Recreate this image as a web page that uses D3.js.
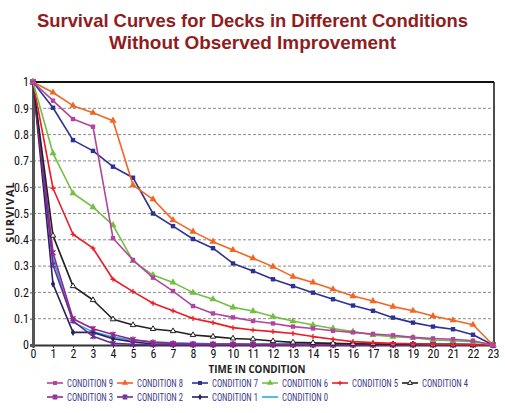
<!DOCTYPE html>
<html><head><meta charset="utf-8">
<script src="https://cdn.jsdelivr.net/npm/d3@7"></script>
<style>body{margin:0;background:#fff}svg{display:block}</style>
</head><body>
<svg id="c" width="505" height="413"></svg>
<script>
const times = d3.range(0, 24);
const xTicks = d3.range(0, 24);
const yTicks = [0,0.1,0.2,0.3,0.4,0.5,0.6,0.7,0.8,0.9,1];
const yTickLabels = ["0","0.1","0.2","0.3","0.4","0.5","0.6","0.7","0.8","0.9","1"];
const seriesNames = ["CONDITION 9","CONDITION 8","CONDITION 7","CONDITION 6","CONDITION 5","CONDITION 4","CONDITION 3","CONDITION 2","CONDITION 1","CONDITION 0"];
const cond9 = [1,0.929,0.859,0.83,0.406,0.323,0.256,0.205,0.148,0.12,0.105,0.091,0.082,0.07,0.063,0.054,0.048,0.042,0.037,0.029,0.025,0.022,0.016,0];
const cond8 = [1,0.96,0.91,0.883,0.853,0.608,0.554,0.475,0.431,0.393,0.361,0.33,0.298,0.26,0.238,0.212,0.186,0.167,0.146,0.13,0.11,0.094,0.077,0];
const cond7 = [1,0.902,0.779,0.738,0.678,0.636,0.5,0.452,0.403,0.368,0.31,0.281,0.25,0.224,0.199,0.174,0.15,0.13,0.104,0.085,0.07,0.06,0.039,0];
const cond6 = [1,0.729,0.577,0.524,0.456,0.32,0.266,0.238,0.199,0.174,0.143,0.129,0.108,0.091,0.076,0.063,0.051,0.038,0.032,0.028,0.019,0.016,0.013,0];
const cond5 = [1,0.596,0.421,0.368,0.25,0.203,0.159,0.13,0.101,0.085,0.066,0.057,0.051,0.044,0.032,0.022,0.013,0.009,0.006,0.005,0.003,0.002,0.001,0];
const cond4 = [1,0.416,0.224,0.171,0.098,0.076,0.061,0.053,0.038,0.032,0.025,0.022,0.015,0.01,0.008,0.006,0.005,0.004,0.003,0.003,0.002,0.002,0.001,0];
const cond3 = [1,0.351,0.1,0.062,0.04,0.021,0.01,0.006,0.004,0.003,0.003,0.002,0.002,0.002,0.001,0.001,0.001,0.001,0.001,0.001,0.001,0.001,0.001,0];
const cond2 = [1,0.304,0.092,0.033,0.006,0.003,0.002,0.002,0.001,0.001,0.001,0.001,0.001,0.001,0.001,0.001,0.001,0.001,0.001,0.001,0.001,0.001,0.001,0];
const cond1 = [1,0.232,0.048,0.048,0.024,0.012,0.004,0.003,0.002,0.002,0.002,0.002,0.002,0.002,0.002,0.002,0.002,0.002,0.002,0.002,0.002,0.002,0.002,0];
const cond0 = [1,0.33,0.086,0.05,0.03,0.018,0.012,0.008,0.006,0.005,0.005,0.004,0.004,0.004,0.004,0.004,0.004,0.004,0.004,0.004,0.004,0.004,0.003,0];
const seriesValues = [cond9,cond8,cond7,cond6,cond5,cond4,cond3,cond2,cond1,cond0];
const colors = ["#b3449e","#f26522","#2e3192","#72bf44","#ed1c24","#231f20","#92278f","#662d91","#262262","#29abe2"];
const markers = ["square","triangle","square","triangle","plus","otriangle","star","star","diamond","none"];

const svg = d3.select("#c");
const x = d3.scaleLinear().domain([0,23]).range([33,493]);
const y = d3.scaleLinear().domain([0,1]).range([345,82]);
const narrow = "'Liberation Sans Narrow','Arial Narrow','Roboto Condensed',sans-serif";

// Title
const title = svg.append("g").attr("font-family","'Liberation Sans',Arial,sans-serif").attr("font-weight","bold")
  .attr("fill","#8f1d1d").attr("font-size",19).attr("text-anchor","middle");
title.append("text").attr("x",252.5).attr("y",27).attr("textLength",431).attr("lengthAdjust","spacingAndGlyphs")
  .text("Survival Curves for Decks in Different Conditions");
title.append("text").attr("x",252.5).attr("y",48.5).attr("textLength",287).attr("lengthAdjust","spacingAndGlyphs")
  .text("Without Observed Improvement");

// gridlines
svg.append("g").selectAll("line").data(yTicks.filter(v=>v>0&&v<1)).join("line")
  .attr("x1",x(0)).attr("x2",x(23)).attr("y1",d=>y(d)).attr("y2",d=>y(d))
  .attr("stroke","#8a8a8a").attr("stroke-width",1).attr("stroke-dasharray","3,2");

// borders
svg.append("line").attr("x1",x(0)).attr("x2",x(23)+1).attr("y1",y(1)).attr("y2",y(1)).attr("stroke","#111").attr("stroke-width",2);
svg.append("line").attr("x1",x(23)+1).attr("x2",x(23)+1).attr("y1",y(1)).attr("y2",y(0)).attr("stroke","#111").attr("stroke-width",1.5);

// axes
const xAxis = d3.axisBottom(x).tickValues(xTicks).tickSize(3).tickFormat(d3.format("d"));
const gx = svg.append("g").attr("transform",`translate(0,${y(0)})`).call(xAxis);
gx.select(".domain").attr("stroke","#333").attr("stroke-width",2);
gx.selectAll(".tick line").attr("stroke","#333");
gx.selectAll("text").attr("font-family",narrow).attr("font-size",12).attr("fill","#111").attr("dy","0.72em").attr("y",4);

const yAxis = d3.axisLeft(y).tickValues(yTicks).tickSize(3).tickFormat((d,i)=>yTickLabels[i]);
const gy = svg.append("g").attr("transform",`translate(${x(0)},0)`).call(yAxis);
gy.select(".domain").attr("stroke","#555").attr("stroke-width",3);
gy.selectAll(".tick line").attr("stroke","#555");
gy.selectAll("text").attr("font-family",narrow).attr("font-size",12).attr("fill","#111").attr("x",-4);

// axis titles
svg.append("text").attr("x",257).attr("y",373).attr("text-anchor","middle")
  .attr("font-family","'Open Sans',sans-serif").attr("font-weight","bold").attr("font-size",11).attr("fill","#222")
  .attr("textLength",97).attr("lengthAdjust","spacingAndGlyphs").text("TIME IN CONDITION");
svg.append("text").attr("transform","translate(14,212) rotate(-90)").attr("text-anchor","middle")
  .attr("font-family","'Open Sans',sans-serif").attr("font-weight","bold").attr("font-size",11).attr("fill","#222")
  .attr("letter-spacing",1).text("SURVIVAL");

// marker drawing
function drawMarker(g, type, color, cx, cy, s) {
  s = s || 1;
  if (type === "square") g.append("rect").attr("x",cx-2.2*s).attr("y",cy-2.2*s).attr("width",4.4*s).attr("height",4.4*s).attr("fill",color);
  else if (type === "triangle") g.append("path").attr("d",d3.symbol(d3.symbolTriangle, 22*s*s)()).attr("transform",`translate(${cx},${cy})`).attr("fill",color);
  else if (type === "otriangle") g.append("path").attr("d",d3.symbol(d3.symbolTriangle, 13*s*s)()).attr("transform",`translate(${cx},${cy})`).attr("fill","#fff").attr("stroke",color).attr("stroke-width",1);
  else if (type === "plus") g.append("path").attr("d",`M${cx-2.5*s},${cy}H${cx+2.5*s}M${cx},${cy-2.5*s}V${cy+2.5*s}`).attr("stroke",color).attr("stroke-width",1.3);
  else if (type === "star") g.append("path").attr("d",`M${cx-2.5*s},${cy-2.5*s}L${cx+2.5*s},${cy+2.5*s}M${cx-2.5*s},${cy+2.5*s}L${cx+2.5*s},${cy-2.5*s}M${cx},${cy-3*s}V${cy+3*s}`).attr("stroke",color).attr("stroke-width",1.3);
  else if (type === "diamond") g.append("path").attr("d",d3.symbol(d3.symbolDiamond, 16*s*s)()).attr("transform",`translate(${cx},${cy})`).attr("fill",color);
}

const line = d3.line().x((d,i)=>x(times[i])).y(d=>y(d));
const plot = svg.append("g");
for (let k = seriesValues.length-1; k >= 0; k--) {
  const g = plot.append("g");
  g.append("path").attr("d",line(seriesValues[k])).attr("fill","none").attr("stroke",colors[k])
    .attr("stroke-width",1.6).attr("stroke-linejoin","round");
  seriesValues[k].forEach((v,i)=>drawMarker(g, markers[k], colors[k], x(times[i]), y(v)));
}

// legend
const legX = [47,117,192,262,332,402];
const legY = [383,397];
const leg = svg.append("g");
seriesNames.forEach((name,k)=>{
  const col = k < 6 ? k : k-6, row = k < 6 ? 0 : 1;
  const lx = legX[col], ly = legY[row];
  const g = leg.append("g");
  g.append("line").attr("x1",lx).attr("x2",lx+16).attr("y1",ly).attr("y2",ly).attr("stroke",colors[k]).attr("stroke-width",1.6);
  drawMarker(g, markers[k], colors[k], lx+8, ly, 0.9);
  g.append("text").attr("x",lx+20).attr("y",ly+3.5).attr("font-family",narrow).attr("font-size",10.5)
    .attr("fill","#3a3a8c").attr("textLength",46).attr("lengthAdjust","spacingAndGlyphs").text(name);
});
</script>
</body></html>
